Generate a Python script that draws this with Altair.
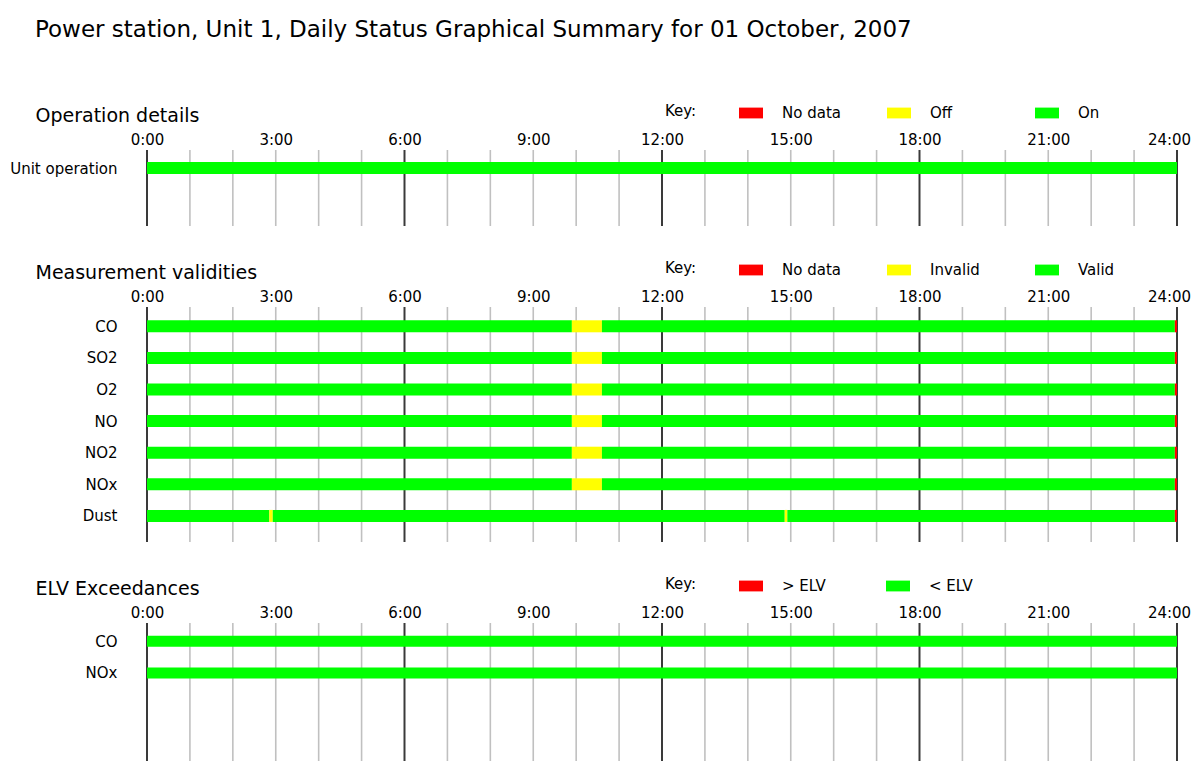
import json
import altair as alt
import pandas as pd

FONT = "DejaVu Sans"
TXT = "#000000"

main_title = "Power station, Unit 1, Daily Status Graphical Summary for 01 October, 2007"

# grid hours and labelled hours
grid_hours = list(range(25))
major_hours = [0, 6, 12, 18, 24]
label_hours = [0, 3, 6, 9, 12, 15, 18, 21, 24]

# ---- Operation details ----
op_heading = "Operation details"
op_rows = ["Unit operation"]
op_keys = ["No data", "Off", "On"]
op_seg_row = ["Unit operation"]
op_seg_start = [0.0]
op_seg_end = [24.0]
op_seg_status = ["On"]

# ---- Measurement validities ----
meas_heading = "Measurement validities"
meas_rows = ["CO", "SO2", "O2", "NO", "NO2", "NOx", "Dust"]
meas_keys = ["No data", "Invalid", "Valid"]
meas_seg_row = (
    ["CO"] * 4 + ["SO2"] * 4 + ["O2"] * 4 + ["NO"] * 4 + ["NO2"] * 4 + ["NOx"] * 4 + ["Dust"] * 6
)
meas_seg_start = (
    [0.0, 9.9, 10.6, 23.95] * 6
    + [0.0, 2.85, 2.93, 14.86, 14.92, 23.95]
)
meas_seg_end = (
    [9.9, 10.6, 23.95, 24.0] * 6
    + [2.85, 2.93, 14.86, 14.92, 23.95, 24.0]
)
meas_seg_status = (
    ["Valid", "Invalid", "Valid", "No data"] * 6
    + ["Valid", "Invalid", "Valid", "Invalid", "Valid", "No data"]
)

# ---- ELV exceedances ----
elv_heading = "ELV Exceedances"
elv_rows = ["CO", "NOx"]
elv_keys = ["> ELV", "< ELV"]
elv_seg_row = ["CO", "NOx"]
elv_seg_start = [0.0, 0.0]
elv_seg_end = [24.0, 24.0]
elv_seg_status = ["< ELV", "< ELV"]

RED, YEL, GRN = "#ff0000", "#ffff00", "#00ff00"
MAJOR_C, MINOR_C = "#3a3a3a", "#c0c0c0"

grid_df = pd.DataFrame({
    "hour": grid_hours,
    "gcol": [MAJOR_C if h in major_hours else MINOR_C for h in grid_hours],
    "gw": [2.0 if h in major_hours else 1.6 for h in grid_hours],
})

XSCALE = alt.Scale(domain=[0, 24], nice=False, zero=False)
ROW_STEP = 31.6


def x_axis(heading):
    return alt.Axis(
        orient="top", values=label_hours, labelExpr="datum.value + ':00'",
        ticks=False, tickSize=0, domain=False, grid=False,
        labelPadding=3, labelFontSize=15, labelFont=FONT, labelColor=TXT,
        labelFlush=False, labelOverlap=False,
        labelOffset={"condition": {"test": "datum.value == 24", "value": -8}, "value": 0},
        title=heading, titleX=-112, titleY=-29, titleAlign="left",
        titleBaseline="alphabetic", titleAngle=0, titleFontSize=19,
        titleFont=FONT, titleFontWeight="normal", titleColor=TXT,
    )


def panel(rows, seg_row, seg_start, seg_end, seg_status, keys, colors, heading,
          height, top_off, bar_size, col_pad):
    df = pd.DataFrame({"row": seg_row, "start": seg_start, "end": seg_end,
                       "status": seg_status})
    df["idx"] = [rows.index(r) for r in seg_row]
    ax = x_axis(heading)
    ydom = [-top_off / ROW_STEP, (height - top_off) / ROW_STEP]
    grid = alt.Chart(grid_df).mark_rule().encode(
        x=alt.X("hour:Q", scale=XSCALE, axis=ax),
        color=alt.Color("gcol:N", scale=None),
        strokeWidth=alt.StrokeWidth("gw:Q", scale=None),
    )
    bars = alt.Chart(df).mark_bar(size=bar_size, orient="horizontal").encode(
        x=alt.X("start:Q", scale=XSCALE, axis=ax),
        x2="end:Q",
        y=alt.Y("idx:Q",
                scale=alt.Scale(domain=ydom, reverse=True, nice=False, zero=False,
                                padding=0),
                axis=alt.Axis(title=None, ticks=False, domain=False, grid=False,
                              values=list(range(len(rows))),
                              labelExpr=json.dumps(rows) + "[datum.value]",
                              labelPadding=30, labelFontSize=15, labelFont=FONT,
                              labelColor=TXT, labelBaseline="middle",
                              minExtent=139, maxExtent=139)),
        color=alt.Color("status:N",
                        scale=alt.Scale(domain=keys, range=colors),
                        legend=alt.Legend(
                            title="Key:", orient="none", legendX=518, legendY=-49,
                            direction="horizontal", columns=len(keys), gridAlign="all",
                            columnPadding=col_pad,
                            symbolType="M-1,-0.45H1V0.45H-1Z", symbolSize=576,
                            symbolStrokeWidth=0, symbolOpacity=1, labelOffset=19,
                            labelFontSize=15, labelFont=FONT, labelColor=TXT,
                            titleOrient="left", titleFontSize=15, titleFont=FONT,
                            titleFontWeight="normal", titleColor=TXT, titlePadding=42,
                        )),
    )
    return alt.layer(grid, bars).properties(width=1030, height=height)


p1 = panel(op_rows, op_seg_row, op_seg_start, op_seg_end, op_seg_status,
           op_keys, [RED, YEL, GRN], op_heading, 76, 18, 12, 46)
p2 = panel(meas_rows, meas_seg_row, meas_seg_start, meas_seg_end, meas_seg_status,
           meas_keys, [RED, YEL, GRN], meas_heading, 235, 19.3, 12, 46)
p3 = panel(elv_rows, elv_seg_row, elv_seg_start, elv_seg_end, elv_seg_status,
           elv_keys, [RED, GRN], elv_heading, 138, 18.3, 11, 60)

chart = alt.vconcat(p1, p2, p3, spacing=31).resolve_scale(
    color="independent", y="independent", x="independent"
).properties(
    title=alt.TitleParams(text=main_title, anchor="start", dx=27, fontSize=23,
                          font=FONT, fontWeight="normal", color=TXT, offset=59),
    padding={"left": 0, "top": 11, "right": 0, "bottom": 0},
).configure_view(stroke=None)

chart.save("out.html", embed_options={"renderer": "svg", "actions": False})
